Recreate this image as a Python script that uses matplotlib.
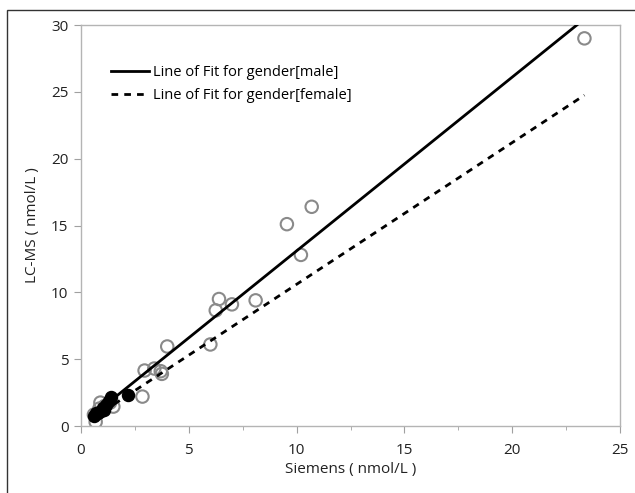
"""
Method comparison scatter: LC-MS vs Siemens, with per-gender lines of fit.
"""
import numpy as np
import matplotlib.pyplot as plt
from matplotlib.patches import Rectangle

plt.rcParams['font.family'] = ['Open Sans', 'DejaVu Sans']

# open grey circles
open_x = [23.35, 10.7, 9.55, 10.2, 6.4, 6.25, 7.0, 8.1, 6.0, 4.0,
          2.95, 3.4, 3.7, 3.75, 2.85, 1.5, 1.35, 1.1, 0.9, 0.85, 0.6, 0.68]
open_y = [29.0, 16.4, 15.1, 12.8, 9.5, 8.65, 9.1, 9.4, 6.1, 5.95,
          4.15, 4.3, 4.1, 3.9, 2.2, 1.45, 1.75, 1.5, 1.75, 1.3, 0.85, 0.3]

# filled black circles
filled_x = [0.62, 0.7, 0.8, 0.95, 1.0, 1.05, 1.15, 1.3, 1.4, 2.2]
filled_y = [0.75, 0.95, 1.0, 1.1, 1.35, 1.2, 1.6, 1.9, 2.15, 2.3]

# lines of fit (slope, intercept) and the x span they cover
fit_male = (1.30, 0.10)
fit_female = (1.06, 0.00)
fit_span = [0.55, 23.35]

fig = plt.figure(figsize=(6.35, 4.93), dpi=100)
ax = fig.add_axes([81 / 635, 67 / 493, 539 / 635, 401 / 493])

xs = np.array(fit_span)
ax.plot(xs, fit_male[0] * xs + fit_male[1], color="black", lw=2.0,
        label="Line of Fit for gender[male]", zorder=3)
ax.plot(xs, fit_female[0] * xs + fit_female[1], color="black", lw=2.0,
        ls=(0, (2.4, 2.2)), label="Line of Fit for gender[female]", zorder=3)

ax.scatter(open_x, open_y, s=80, facecolors="none", edgecolors="#8a8a8a",
           linewidths=1.5, zorder=2)
ax.scatter(filled_x, filled_y, s=75, facecolors="black", edgecolors="black",
           linewidths=1.0, zorder=4)

ax.set_xlim(0, 25)
ax.set_ylim(0, 30)
ax.set_xticks(range(0, 26, 5))
ax.set_xticks(np.arange(2.5, 25, 5), minor=True)
ax.set_yticks(range(0, 31, 5))

for s in ax.spines.values():
    s.set_color("#b4b4b4")
    s.set_linewidth(1.0)
ax.tick_params(axis="both", which="major", direction="out", length=5,
               color="#a0a0a0", labelsize=11, labelcolor="#222222", pad=4)
ax.tick_params(axis="x", which="major", pad=7)
ax.tick_params(axis="x", which="minor", direction="out", length=3,
               color="#a0a0a0")

ax.set_xlabel("Siemens ( nmol/L )", fontsize=11, color="#222222", labelpad=3)
ax.set_ylabel("LC-MS ( nmol/L )", fontsize=11, color="#222222", labelpad=8)

ax.legend(loc="upper left", bbox_to_anchor=(0.045, 0.915), frameon=False,
          fontsize=10.5, handlelength=2.6, handletextpad=0.3, labelspacing=0.55,
          borderaxespad=0)

# outer frame of the report panel
fig.add_artist(Rectangle((7 / 635, -0.1), 1.2, 1.1 - 10 / 493,
                         transform=fig.transFigure, fill=False,
                         edgecolor="#333333", lw=1.0))

fig.savefig("out.png", dpi=100)
